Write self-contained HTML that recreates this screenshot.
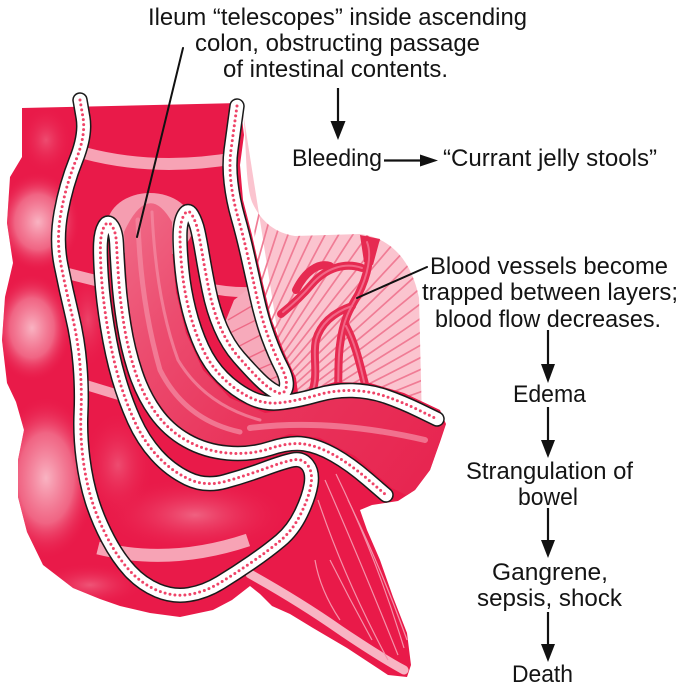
<!DOCTYPE html>
<html>
<head>
<meta charset="utf-8">
<style>
html,body{margin:0;padding:0;background:#ffffff;}
svg{display:block;}
</style>
</head>
<body>
<svg width="680" height="685" viewBox="0 0 680 685" xmlns="http://www.w3.org/2000/svg">
<defs>
  <radialGradient id="lobe">
    <stop offset="0" stop-color="#f9b3c2"/>
    <stop offset="0.55" stop-color="#f27792" stop-opacity="0.8"/>
    <stop offset="1" stop-color="#e91a49" stop-opacity="0"/>
  </radialGradient>
  <radialGradient id="soft">
    <stop offset="0" stop-color="#f27c96" stop-opacity="0.85"/>
    <stop offset="1" stop-color="#e91a49" stop-opacity="0"/>
  </radialGradient>
  <linearGradient id="ileumG" x1="120" y1="220" x2="440" y2="470" gradientUnits="userSpaceOnUse">
    <stop offset="0" stop-color="#f06a87"/>
    <stop offset="0.25" stop-color="#ec4c6f"/>
    <stop offset="0.55" stop-color="#e9355c"/>
    <stop offset="1" stop-color="#e72550"/>
  </linearGradient>
  <clipPath id="silClip">
    <path d="M22,108 L240,103 L244,135 L240,165 L243,200 L252,235 L261,275 L271,318 L284,352 L296,378 L298,393 L335,382 L370,383 L404,393 L440,410 L446,424 L440,442 L430,470 L415,490 L398,501 L372,505 L360,510 L367,530 L380,560 L393,597 L407,633 L411,665 L407,677 L388,675 L347,648 L313,628 L290,614 L272,606 L260,594 L250,586 L232,600 L213,610 L180,617 L150,613 L120,606 L100,599 L73,588 L43,565 L27,532 L18,497 L18,460 L24,430 L16,402 L7,383 L2,340 L5,297 L13,263 L7,223 L10,177 L22,157 Z"/>
  </clipPath>
  <clipPath id="mesClip">
    <path d="M252,202 C260,220 274,233 295,236 L360,234 C392,238 412,262 419,298 L422,422 L300,404 L262,330 Z"/>
  </clipPath>
  <path id="tA" d="M80,100 L83,117.5 Q86,135 76,160 Q66,185 61,212.5 Q56,240 61,265 Q66,290 72,315 Q78,340 80,365 Q82,390 81,412.5 Q80,435 83,458.5 Q86,482 92,501 Q98,520 108,539 Q118,558 130,571 Q142,584 157.5,590.5 Q173,597 189,594.5 Q205,592 220.5,582.5 Q236,573 252,562 Q268,551 280.5,540.5 Q293,530 301,513.5 Q309,497 311,484.5 Q313,472 307.5,465 Q302,458 292.5,460 Q283,462 264,469 Q245,476 225,481.5 Q205,487 187.5,478.5 Q170,470 156.5,455 Q143,440 134,420 Q125,400 118.5,377.5 Q112,355 107.5,327.5 Q103,300 101.5,277.5 Q100,255 100.5,243.5 Q101,232 104.5,226 Q108,220 112,226 Q116,232 116.5,243.5 Q117,255 118.5,277.5 Q120,300 124,325 Q128,350 135.5,372.5 Q143,395 155.5,412.5 Q168,430 186.5,440.5 Q205,451 227.5,453 Q250,455 270,448.5 Q290,442 304,444 Q318,446 334,455 Q350,464 368,479.5 L386,495"/>
  <path id="tB" d="M237,106 L235,120.5 Q233,135 231,150 Q229,165 231,182.5 Q233,200 238,217.5 Q243,235 247.5,255 Q252,275 257,297.5 Q262,320 268.5,337.5 Q275,355 281.5,367.5 Q288,380 286,388 Q284,396 276,392 Q268,388 259,379 Q250,370 239,357.5 Q228,345 220.5,327.5 Q213,310 209,290 Q205,270 202.5,255 Q200,240 198,231 Q196,222 192,215 Q188,208 184,215 Q180,222 180,236 Q180,250 182,270 Q184,290 189,310 Q194,330 202,347.5 Q210,365 222.5,377.5 Q235,390 250,397.5 Q265,405 282.5,402.5 Q300,400 317.5,395 Q335,390 352.5,390.5 Q370,391 386,396.5 Q402,402 419.5,410.5 L437,419"/>
</defs>

<!-- Mesentery (pink fan) -->
<path d="M243,112 C247,150 245,182 252,202 C260,220 274,233 295,236 L360,234 C392,238 412,262 419,298 L422,422 L300,404 L286,386 Z" fill="#fbc4cf"/>
<g clip-path="url(#mesClip)" stroke="#f07c95" stroke-width="1.7">
  <g transform="translate(200,470)">
    <line x1="60" y1="0" x2="340" y2="0" transform="rotate(-82)"/>
    <line x1="60" y1="0" x2="340" y2="0" transform="rotate(-79.5)"/>
    <line x1="60" y1="0" x2="340" y2="0" transform="rotate(-77)"/>
    <line x1="60" y1="0" x2="340" y2="0" transform="rotate(-74.5)"/>
    <line x1="60" y1="0" x2="340" y2="0" transform="rotate(-72)"/>
    <line x1="60" y1="0" x2="340" y2="0" transform="rotate(-69.5)"/>
    <line x1="60" y1="0" x2="340" y2="0" transform="rotate(-67)"/>
    <line x1="60" y1="0" x2="340" y2="0" transform="rotate(-64.5)"/>
    <line x1="60" y1="0" x2="340" y2="0" transform="rotate(-62)"/>
    <line x1="60" y1="0" x2="340" y2="0" transform="rotate(-59.5)"/>
    <line x1="60" y1="0" x2="340" y2="0" transform="rotate(-57)"/>
    <line x1="60" y1="0" x2="340" y2="0" transform="rotate(-54.5)"/>
    <line x1="60" y1="0" x2="340" y2="0" transform="rotate(-52)"/>
    <line x1="60" y1="0" x2="340" y2="0" transform="rotate(-49.5)"/>
    <line x1="60" y1="0" x2="340" y2="0" transform="rotate(-47)"/>
    <line x1="60" y1="0" x2="340" y2="0" transform="rotate(-44.5)"/>
    <line x1="60" y1="0" x2="340" y2="0" transform="rotate(-42)"/>
    <line x1="60" y1="0" x2="340" y2="0" transform="rotate(-39.5)"/>
    <line x1="60" y1="0" x2="340" y2="0" transform="rotate(-37)"/>
    <line x1="60" y1="0" x2="340" y2="0" transform="rotate(-34.5)"/>
    <line x1="60" y1="0" x2="340" y2="0" transform="rotate(-32)"/>
    <line x1="60" y1="0" x2="340" y2="0" transform="rotate(-29.5)"/>
    <line x1="60" y1="0" x2="340" y2="0" transform="rotate(-27)"/>
    <line x1="60" y1="0" x2="340" y2="0" transform="rotate(-24.5)"/>
    <line x1="60" y1="0" x2="340" y2="0" transform="rotate(-22)"/>
    <line x1="60" y1="0" x2="340" y2="0" transform="rotate(-19.5)"/>
    <line x1="60" y1="0" x2="340" y2="0" transform="rotate(-17)"/>
    <line x1="60" y1="0" x2="340" y2="0" transform="rotate(-14.5)"/>
    <line x1="60" y1="0" x2="340" y2="0" transform="rotate(-12)"/>
    <line x1="60" y1="0" x2="340" y2="0" transform="rotate(-9.5)"/>
    <line x1="60" y1="0" x2="340" y2="0" transform="rotate(-7)"/>
  </g>
</g>
<!-- Blood vessels -->
<g fill="none" stroke-linecap="round" stroke-linejoin="round">
  <g stroke="#e62a51" stroke-width="8">
    <path d="M367,240 C372,255 368,275 358,295 C350,308 343,320 340,345 C337,365 340,385 336,402"/>
    <path d="M362,268 C345,262 326,268 312,284 C302,296 292,305 281,314"/>
    <path d="M352,306 C335,312 321,322 316,340 C312,358 320,375 310,398"/>
    <path d="M346,326 C356,345 360,365 367,392"/>
    <path d="M330,266 C318,262 305,272 296,290"/>
  </g>
  <path d="M360,235 L380,239 L373,265 L364,262 Z" fill="#e62a51" stroke="none"/>
  <g stroke="#f26686" stroke-width="2">
    <path d="M367,242 C372,255 368,275 358,295 C350,308 343,320 340,345 C337,365 340,385 336,400"/>
    <path d="M362,268 C345,262 326,268 312,284 C302,296 292,305 283,312"/>
    <path d="M352,306 C335,312 321,322 316,340 C312,358 320,375 311,396"/>
    <path d="M346,326 C356,345 360,365 366,390"/>
  </g>
</g>

<!-- Main red body -->
<path d="M22,108 L240,103 L244,135 L240,165 L243,200 L252,235 L261,275 L271,318 L284,352 L296,378 L298,393 L335,382 L370,383 L404,393 L440,410 L446,424 L440,442 L430,470 L415,490 L398,501 L372,505 L360,510 L367,530 L380,560 L393,597 L407,633 L411,665 L407,677 L388,675 L347,648 L313,628 L290,614 L272,606 L260,594 L250,586 L232,600 L213,610 L180,617 L150,613 L120,606 L100,599 L73,588 L43,565 L27,532 L18,497 L18,460 L24,430 L16,402 L7,383 L2,340 L5,297 L13,263 L7,223 L10,177 L22,157 Z" fill="#e91a49"/>

<g clip-path="url(#silClip)">
  <!-- left lobes -->
  <ellipse cx="46" cy="140" rx="26" ry="34" fill="url(#soft)" opacity="0.6"/>
  <ellipse cx="38" cy="222" rx="42" ry="50" fill="url(#lobe)"/>
  <ellipse cx="32" cy="328" rx="40" ry="54" fill="url(#lobe)"/>
  <ellipse cx="46" cy="478" rx="50" ry="82" fill="url(#lobe)"/>
  <ellipse cx="90" cy="585" rx="55" ry="22" fill="url(#soft)" opacity="0.7"/>
  <!-- interior soft areas -->
  <ellipse cx="195" cy="515" rx="95" ry="38" fill="url(#soft)" opacity="0.85"/>
  <ellipse cx="118" cy="465" rx="36" ry="55" fill="url(#soft)" opacity="0.6"/>
  <ellipse cx="88" cy="320" rx="22" ry="50" fill="url(#soft)" opacity="0.5"/>
  <!-- pink haustral bands -->
  <g fill="none" stroke="#f7a3b5" stroke-linecap="butt">
    <path d="M84,153 Q155,172 236,158" stroke-width="12"/>
    <path d="M62,272 Q85,278 106,283" stroke-width="11"/>
    <path d="M203,287 Q228,293 254,292" stroke-width="10"/>
    <path d="M76,382 Q96,388 122,396" stroke-width="10"/>
    <path d="M98,548 Q170,566 248,540" stroke-width="13"/>
  </g>
  <!-- trapped mesentery inside U -->
  <path d="M234,300 L252,286 L262,322 L276,356 L286,383 L268,388 L250,372 L232,352 L222,330 Z" fill="#f7aabb"/>
  <g stroke="#ee6a86" stroke-width="1.4">
    <line x1="228" y1="320" x2="262" y2="300"/>
    <line x1="226" y1="335" x2="266" y2="315"/>
    <line x1="232" y1="350" x2="270" y2="330"/>
    <line x1="240" y1="362" x2="275" y2="345"/>
    <line x1="250" y1="373" x2="280" y2="360"/>
    <line x1="262" y1="383" x2="285" y2="373"/>
  </g>
  <!-- ileum top crescent -->
  <ellipse cx="150" cy="226" rx="43" ry="33" fill="#f59db0"/>
  <!-- ileum body -->
  <path d="M124,232 L125,255 L128,300 L136,350 L151,393 L175,425 L208,443 L250,447 L290,434 L320,438 L355,456 L392,488 L410,497 L428,478 L440,440 L445,425 L402,410 L370,399 L335,398 L300,408 L265,413 L230,398 L203,370 L186,333 L176,292 L172,250 L172,222 Q148,180 124,232 Z" fill="url(#ileumG)"/>
  <g fill="none" stroke="#f48aa2" stroke-linecap="round" opacity="0.75">
    <path d="M138,220 Q140,300 160,370 Q185,420 240,432" stroke-width="5"/>
    <path d="M152,212 Q156,300 178,360 Q205,405 260,420" stroke-width="3"/>
    <path d="M250,428 Q330,418 425,440" stroke-width="6"/>
  </g>
  <!-- appendage details -->
  <path d="M250,574 Q300,602 340,630 Q380,657 404,670" fill="none" stroke="#f8b4c3" stroke-width="9" stroke-linecap="round"/>
  <g fill="none" stroke="#f592a9" stroke-width="1.2">
    <path d="M325,480 Q360,560 398,655"/>
    <path d="M336,474 Q376,556 404,648"/>
    <path d="M318,500 Q345,580 388,660"/>
    <path d="M348,500 Q382,570 407,640"/>
    <path d="M330,560 Q350,600 372,640"/>
    <path d="M315,560 Q320,590 340,620"/>
  </g>
</g>

<!-- Tubes (bowel walls) -->
<g fill="none" stroke-linecap="round" stroke-linejoin="round">
  <use href="#tA" stroke="#1a1a1a" stroke-width="15.5"/>
  <use href="#tB" stroke="#1a1a1a" stroke-width="15.5"/>
  <use href="#tA" stroke="#ffffff" stroke-width="12.5"/>
  <use href="#tB" stroke="#ffffff" stroke-width="12.5"/>
  <use href="#tA" stroke="#ef4468" stroke-width="3" stroke-dasharray="0 5"/>
  <use href="#tB" stroke="#ef4468" stroke-width="3" stroke-dasharray="0 5"/>
</g>

<!-- Leader lines -->
<g stroke="#111" stroke-width="2" stroke-linecap="round">
  <line x1="183" y1="48" x2="137" y2="237"/>
  <line x1="427" y1="267" x2="357" y2="298"/>
</g>

<!-- Arrows -->
<g stroke="#111" stroke-width="2.2">
  <line x1="338" y1="88" x2="338" y2="124"/>
  <line x1="384" y1="160.5" x2="423" y2="160.5"/>
  <line x1="548" y1="330" x2="548" y2="366"/>
  <line x1="548" y1="407" x2="548" y2="442"/>
  <line x1="548" y1="508" x2="548" y2="542"/>
  <line x1="548" y1="612" x2="548" y2="646"/>
</g>
<g fill="#111">
  <polygon points="330.5,121 345.5,121 338,140"/>
  <polygon points="420,154.5 420,166.5 438,160.5"/>
  <polygon points="541,364 555,364 548,383"/>
  <polygon points="541,440 555,440 548,458"/>
  <polygon points="541,540 555,540 548,558"/>
  <polygon points="541,644 555,644 548,662"/>
</g>

<!-- Text -->
<g font-family="'Liberation Sans', Arial, Helvetica, sans-serif" font-size="24" fill="#141414">
  <text x="148" y="25" textLength="379" lengthAdjust="spacingAndGlyphs">Ileum “telescopes” inside ascending</text>
  <text x="195" y="51" textLength="285" lengthAdjust="spacingAndGlyphs">colon, obstructing passage</text>
  <text x="223" y="77" textLength="225" lengthAdjust="spacingAndGlyphs">of intestinal contents.</text>
  <text x="292" y="166" textLength="90" lengthAdjust="spacingAndGlyphs">Bleeding</text>
  <text x="443" y="166" textLength="214" lengthAdjust="spacingAndGlyphs">“Currant jelly stools”</text>
  <text x="430" y="274" textLength="238" lengthAdjust="spacingAndGlyphs">Blood vessels become</text>
  <text x="422" y="300" textLength="256" lengthAdjust="spacingAndGlyphs">trapped between layers;</text>
  <text x="435" y="327" textLength="226" lengthAdjust="spacingAndGlyphs">blood flow decreases.</text>
  <text x="513" y="402" textLength="73" lengthAdjust="spacingAndGlyphs">Edema</text>
  <text x="466" y="479" textLength="167" lengthAdjust="spacingAndGlyphs">Strangulation of</text>
  <text x="518" y="505" textLength="60" lengthAdjust="spacingAndGlyphs">bowel</text>
  <text x="492" y="580" textLength="116" lengthAdjust="spacingAndGlyphs">Gangrene,</text>
  <text x="477" y="606" textLength="145" lengthAdjust="spacingAndGlyphs">sepsis, shock</text>
  <text x="512" y="682" textLength="61" lengthAdjust="spacingAndGlyphs">Death</text>
</g>
</svg>
</body>
</html>
